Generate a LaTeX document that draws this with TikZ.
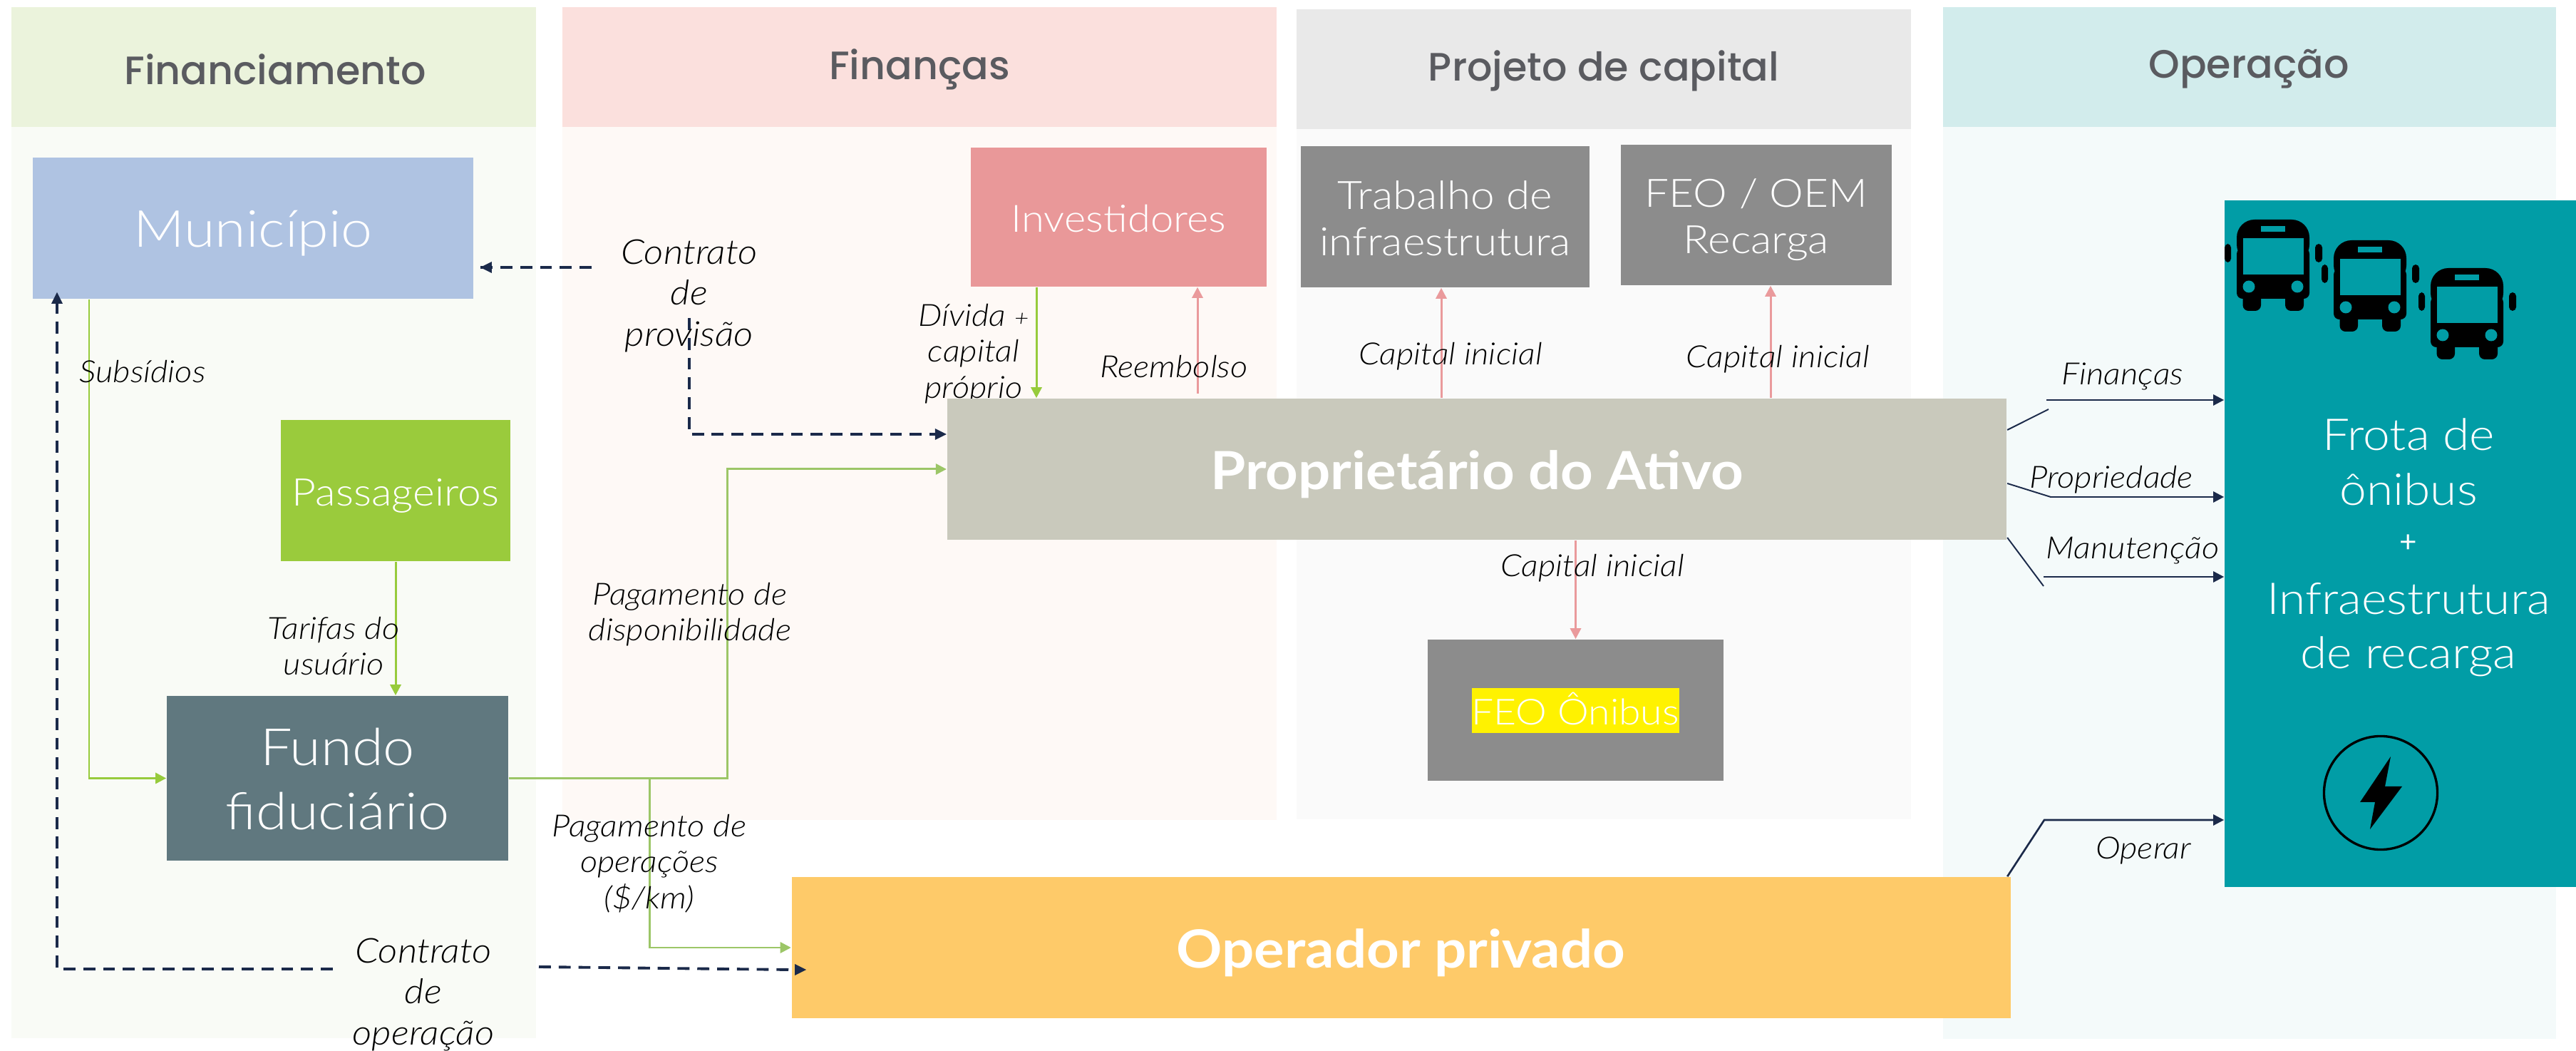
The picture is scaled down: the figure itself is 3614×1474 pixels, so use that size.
\documentclass[tikz,border=0pt]{standalone}
\usepackage{fontspec}
\usetikzlibrary{arrows.meta,calc}
\setmainfont{Lato}
\newfontfamily\lightf{Lato Light}[ItalicFont={Lato Light Italic},ItalicFeatures={FakeStretch=1.1},FakeStretch=1.1]
\newfontfamily\headf{Poppins Medium}
\newfontfamily\boldf{Lato Bold}[FakeStretch=1.08]
\definecolor{hfin}{HTML}{EBF3DC}\definecolor{bfin}{HTML}{F9FBF6}
\definecolor{hfi}{HTML}{FBE0DD}\definecolor{bfi}{HTML}{FEF9F6}
\definecolor{hpr}{HTML}{E9E9E9}\definecolor{bpr}{HTML}{FAFAFA}
\definecolor{hop}{HTML}{D2ECEC}\definecolor{bop}{HTML}{F4FAFA}
\definecolor{cmun}{HTML}{AFC3E2}\definecolor{cpas}{HTML}{9ACB3C}
\definecolor{cfun}{HTML}{60787F}\definecolor{cinv}{HTML}{E99899}
\definecolor{cgra}{HTML}{8C8C8C}\definecolor{cpro}{HTML}{C9C9BC}
\definecolor{copr}{HTML}{FECA69}\definecolor{cfro}{HTML}{019DA6}
\definecolor{htxt}{HTML}{5A5B60}\definecolor{navy}{HTML}{1B2A4A}
\definecolor{gline}{HTML}{97CB3C}\definecolor{gpale}{HTML}{9CC667}
\definecolor{pline}{HTML}{EA9A9C}
\tikzset{
  hdr/.style={font=\headf\fontsize{15.8}{19}\selectfont,text=htxt},
  lab/.style={font=\lightf\itshape\fontsize{12.2}{14.3}\selectfont,text=black,align=center,inner sep=0pt},
  labbig/.style={font=\lightf\itshape\fontsize{13.7}{16.3}\selectfont,text=black,align=center,inner sep=0pt},
  tip/.style={-{Triangle[length=4.3pt,width=4.3pt]}},
  gflow/.style={draw=gline,line width=.85pt,tip},
  gflowp/.style={draw=gpale,line width=.85pt,tip},
  pflow/.style={draw=pline,line width=.85pt,tip},
  ndash/.style={draw=navy,line width=1.1pt,dash pattern=on 4.8pt off 3.1pt},
  nflow/.style={draw=navy,line width=.75pt,tip},
  nthin/.style={draw=navy,line width=.55pt},
}
% box by its corners: name, x1, y1, x2, y2, fill, font, text
\newcommand{\bxn}[8]{%
  \pgfmathsetmacro\bxcx{(#2+#4)/2}\pgfmathsetmacro\bxcy{(#3+#5)/2}%
  \pgfmathsetmacro\bxw{(#4-#2)/100}\pgfmathsetmacro\bxh{(#5-#3)/100}%
  \node[rectangle,fill=#6,inner sep=0pt,text=white,align=center,font=#7,minimum width=\bxw cm,minimum height=\bxh cm] (#1) at (\bxcx,\bxcy) {#8};}
% text block moved down by #1 inside its box
\newcommand{\tl}[2]{\raisebox{0pt}[\dimexpr\height+#1*2\relax][\depth]{\begin{tabular}{@{}c@{}}#2\end{tabular}}}
\newcommand{\busicon}[2]{%
  \begin{scope}[shift={(#1,#2)}]
    \fill[black,rounded corners=7.1pt] (0,60) -- (0,0) -- (102,0) -- (102,60) -- cycle;
    \fill[black,rounded corners=2.3pt] (0,40) rectangle (102,111);
    \fill[black,rounded corners=2.3pt] (8.5,95) rectangle (34,128);
    \fill[black,rounded corners=2.3pt] (68,95) rectangle (94,128);
    \fill[black,rounded corners=1.5pt] (-17,34) rectangle (-8,60);
    \fill[black,rounded corners=1.5pt] (110,34) rectangle (120,60);
    \fill[cfro] (8.5,26) rectangle (94,77);
    \fill[cfro] (34,8.7) rectangle (68,17.3);
    \fill[cfro] (17,94) circle[radius=8.5];
    \fill[cfro] (85,94) circle[radius=8.5];
  \end{scope}}
\begin{document}
\begin{tikzpicture}[x=0.01cm,y=-0.01cm]
\useasboundingbox (0,0) rectangle (3614,1474);
% bodies
\fill[bfin] (16,178) rectangle (752,1456);
\fill[bfi] (789,178) rectangle (1791,1150);
\fill[bpr] (1819,181) rectangle (2681,1149);
\fill[bop] (2726,178) rectangle (3586,1457);
% headers
\bxn{hA}{16}{10}{752}{178}{hfin}{}{}
\bxn{hB}{789}{10}{1791}{178}{hfi}{}{}
\bxn{hC}{1819}{13}{2681}{181}{hpr}{}{}
\bxn{hD}{2726}{10}{3586}{178}{hop}{}{}
\node[hdr] (tA) at (386,97) {Financiamento};
\node[hdr] (tB) at (1290,97) {Finanças};
\node[hdr] (tC) at (2250,99) {Projeto de capital};
\node[hdr] (tD) at (3155,97) {Operação};
% label hidden partly by the owner box
\node[lab] (lDiv) at (1366,496) {Dívida {\fontsize{9}{9}\selectfont +}\\capital\\próprio};
% boxes
\bxn{mun}{46}{221}{664}{419}{cmun}{\lightf\fontsize{20.4}{25}\selectfont}{\tl{2.6pt}{Município}}
\bxn{pas}{394}{589}{716}{787}{cpas}{\lightf\fontsize{15.2}{17}\selectfont}{\tl{2.6pt}{Passageiros}}
\bxn{fun}{234}{976}{713}{1207}{cfun}{\lightf\fontsize{20.5}{25.6}\selectfont}{\tl{2.6pt}{Fundo\\fiduciário}}
\bxn{inv}{1362}{207}{1777}{402}{cinv}{\lightf\fontsize{15}{17}\selectfont}{\tl{2.6pt}{Investidores}}
\bxn{tra}{1825}{205}{2230}{403}{cgra}{\lightf\fontsize{15.6}{18.5}\selectfont}{\tl{2.6pt}{Trabalho de\\infraestrutura}}
\bxn{feo}{2274}{203}{2654}{400}{cgra}{\lightf\fontsize{15.6}{18.5}\selectfont}{\tl{2.3pt}{FEO / OEM\\Recarga}}
\bxn{pro}{1329}{559}{2815}{757}{cpro}{\boldf\fontsize{21}{25}\selectfont}{\tl{3pt}{Proprietário do Ativo}}
\bxn{oni}{2003}{897}{2418}{1095}{cgra}{}{}
\bxn{yel}{2065}{965}{2356}{1028}{yellow}{}{}
\node[text=white,inner sep=0pt,font=\lightf\fontsize{14.3}{17}\selectfont] (onit) at (2210,994) {FEO Ônibus};
\bxn{opr}{1111}{1230}{2820}{1428}{copr}{\boldf\fontsize{21}{25}\selectfont}{\tl{3pt}{Operador privado}}
\bxn{fro}{3121}{281}{3614}{1244}{cfro}{}{}
\node[text=white,align=center,inner sep=0pt,font=\lightf\fontsize{17.5}{21.8}\selectfont] (frt) at (3379,768) {Frota de\\ônibus\\[-3pt]{\rmfamily\fontsize{12}{13}\selectfont +}\\[3pt]Infraestrutura\\de recarga};
% icons
\busicon{3138}{308}
\busicon{3274}{337}
\busicon{3410}{376}
\node[draw=black,line width=.95pt,circle,inner sep=0pt,minimum size=1.59cm] (bolt) at (3340,1112) {};
\fill[black] (3354,1061) -- (3311,1125) -- (3332,1125) -- (3325,1163) -- (3370,1103) -- (3346,1103) -- cycle;
% coordinates
\coordinate (xSub) at (125,0);
\coordinate (xDash) at (80,0);
\coordinate (cTopL) at (467,1359);
\coordinate (cProvA) at (830,375);
\coordinate (cProvB) at (967,446);
\coordinate (xDisp) at (1020,0);
\coordinate (xOpe) at (911,0);
\coordinate (cOpA) at (756,1356);
\coordinate (cOpB) at (1131,1360);
\coordinate (xDiv) at (1454,0);
\coordinate (xRee) at (1680,0);
\coordinate (cRee) at (1680,552);
\coordinate (xCa1) at (2022,0);
\coordinate (xCa2) at (2484,0);
% green
\draw[gflow] (mun.south -| xSub) |- (fun.west);
\draw[gflow] (pas.south) -- (pas.south |- fun.north);
\draw[gflow] (inv.south -| xDiv) -- (pro.north -| xDiv);
\draw[gflowp] (fun.east) -- (fun.east -| xDisp) -- (pro.west -| xDisp) -- (pro.west);
\draw[gflowp] (fun.east -| xOpe) |- (opr.west);
% pink
\draw[pflow] (cRee) -- (inv.south -| xRee);
\draw[pflow] (pro.north -| xCa1) -- (tra.south -| xCa1);
\draw[pflow] (pro.north -| xCa2) -- (feo.south -| xCa2);
\draw[pflow] (pro.south -| oni.north) -- (oni.north);
% dashed
\draw[ndash] (cProvA) -- (cProvA -| mun.east);
\fill[navy] ($(cProvA -| mun.east)+(9,0)$) -- ++(16,-8) -- ++(0,16) -- cycle;
\draw[ndash] (cProvB) |- (pro.west |- 0,609);
\fill[navy] (pro.west |- 0,609) -- ++(-16,-8) -- ++(0,16) -- cycle;
\draw[ndash] (cTopL) -| (xDash |- mun.south);
\fill[navy] (80,410) -- ++(-8,16) -- ++(16,0) -- cycle;
\draw[ndash] (cOpA) -- (opr.west |- cOpB);
\fill[navy] (cOpB) -- ++(-16,-8) -- ++(0,16) -- cycle;
% right side
\coordinate (r1a) at (2874,574);\coordinate (r1b) at (2871,561);
\coordinate (r2a) at (2877,697);
\coordinate (r3a) at (2867,822);\coordinate (r3b) at (2867,809);
\coordinate (r4a) at (2868,1150);
\draw[nthin] (pro.east |- 0,603) -- (r1a);
\draw[nflow] (r1b) -- (r1b -| fro.west);
\draw[nthin] (pro.east |- 0,678) -- (r2a);
\draw[nflow] (r2a) -- (r2a -| fro.west);
\draw[nthin] (pro.east |- 0,754) -- (r3a);
\draw[nflow] (r3b) -- (r3b -| fro.west);
\draw[nflow] (opr.north east) ++(-5,0) -- (r4a) -- (r4a -| fro.west);
% labels
\node[labbig] (lProv) at (967,415) {Contrato\\de\\provisão};
\node[labbig] (lOpe) at (594,1395) {Contrato\\de\\operação};
\node[lab] (lSub) at (200,521) {Subsídios};
\node[lab] (lTar) at (468,906) {Tarifas do\\usuário};
\node[lab] (lDis) at (968,862) {Pagamento de\\disponibilidade};
\node[lab] (lPop) at (911,1211) {Pagamento de\\operações\\(\$/km)};
\node[lab] (lRee) at (1647,514) {Reembolso};
\node[lab] (lCa1) at (2035,500) {Capital inicial};
\node[lab] (lCa2) at (2494,504) {Capital inicial};
\node[lab] (lCa3) at (2234,797) {Capital inicial};
\node[lab] (lFin) at (2978,528) {Finanças};
\node[lab] (lPro) at (2962,673) {Propriedade};
\node[lab] (lMan) at (2992,772) {Manutenção};
\node[lab] (lOpr) at (3007,1193) {Operar};
\end{tikzpicture}
\end{document}
